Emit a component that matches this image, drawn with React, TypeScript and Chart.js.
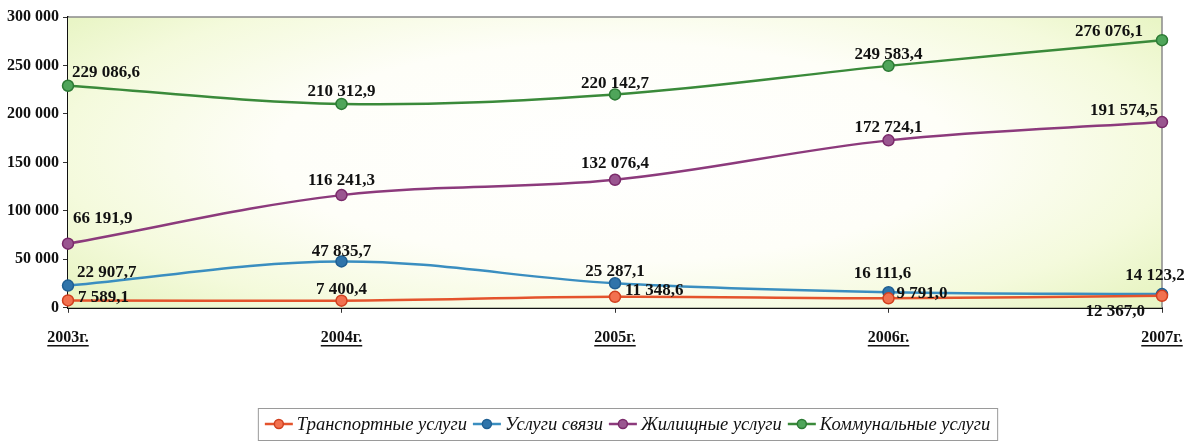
import React, { useEffect, useRef } from "react";
import { Chart, registerables } from "chart.js";

Chart.register(...registerables);

const years = ["2003г.", "2004г.", "2005г.", "2006г.", "2007г."];
const transport = [7589.1, 7400.4, 11348.6, 9791.0, 12367.0];
const communication = [22907.7, 47835.7, 25287.1, 16111.6, 14123.2];
const housing = [66191.9, 116241.3, 132076.4, 172724.1, 191574.5];
const communal = [229086.6, 210312.9, 220142.7, 249583.4, 276076.1];
const seriesNames = ["Транспортные услуги", "Услуги связи", "Жилищные услуги", "Коммунальные услуги"];
const yMax = 300000;
const yStep = 50000;

const lineColors = ["#e4532c", "#3a8ec0", "#8c3a7c", "#3a8a3a"];
const pointFills = ["#f2714f", "#2f74aa", "#9a5690", "#4fa55a"];
const pointBorders = ["#d0401f", "#1f5f92", "#7a2a6a", "#2c7a34"];

// label placement per series / point: [align, dx, dy]
const placements: [CanvasTextAlign, number, number][][] = [
  [["left", 10, -3], ["center", 0, -11], ["left", 10, -6], ["left", 8, -5], ["right", -17, 16]],
  [["left", 9, -13], ["center", 0, -10], ["center", 0, -12], ["center", -6, -19], ["center", -7, -19]],
  [["left", 5, -25], ["center", 0, -15], ["center", 0, -16], ["center", 0, -13], ["right", -4, -11]],
  [["left", 4, -13], ["center", 0, -12], ["center", 0, -11], ["center", 0, -11], ["right", -19, -9]],
];

const fmtValue = (v: number) => {
  const [i, d] = v.toFixed(1).split(".");
  return i.replace(/\B(?=(\d{3})+(?!\d))/g, " ") + "," + d;
};
const fmtTick = (v: number) => String(v).replace(/\B(?=(\d{3})+(?!\d))/g, " ");

const bgPlugin = {
  id: "bgPlugin",
  beforeDatasetsDraw(chart: any) {
    const { ctx, chartArea: a } = chart;
    const cx = (a.left + a.right) / 2;
    const cy = (a.top + a.bottom) / 2 - 10;
    const rx = (a.right - a.left) * 0.62;
    const ry = (a.bottom - a.top) * 0.75;
    ctx.save();
    ctx.beginPath();
    ctx.rect(a.left, a.top, a.right - a.left, a.bottom - a.top);
    ctx.clip();
    ctx.translate(cx, cy);
    ctx.scale(1, ry / rx);
    const g = ctx.createRadialGradient(0, 0, 0, 0, 0, rx);
    g.addColorStop(0, "#ffffff");
    g.addColorStop(0.5, "#fefef8");
    g.addColorStop(0.82, "#f4fadc");
    g.addColorStop(1, "#e9f5c6");
    ctx.fillStyle = g;
    ctx.fillRect(-rx * 2, -rx * 2, rx * 4, rx * 4);
    ctx.restore();
    ctx.save();
    ctx.strokeStyle = "#8a8a8a";
    ctx.lineWidth = 1.5;
    ctx.beginPath();
    ctx.moveTo(a.left, a.top);
    ctx.lineTo(a.right, a.top);
    ctx.lineTo(a.right, a.bottom);
    ctx.stroke();
    ctx.restore();
  },
};

const labelPlugin = {
  id: "labelPlugin",
  afterDatasetsDraw(chart: any) {
    const { ctx } = chart;
    ctx.save();
    ctx.font = "bold 17px 'Liberation Serif'";
    ctx.fillStyle = "#111";
    ctx.textBaseline = "middle";
    chart.data.datasets.forEach((ds: any, di: number) => {
      const meta = chart.getDatasetMeta(di);
      meta.data.forEach((pt: any, i: number) => {
        const [al, dx, dy] = placements[di][i];
        ctx.textAlign = al;
        ctx.fillText(fmtValue(ds.data[i]), pt.x + dx, pt.y + dy);
      });
    });
    ctx.restore();
  },
};

const underlinePlugin = {
  id: "underlinePlugin",
  afterDraw(chart: any) {
    const { ctx } = chart;
    const xs = chart.scales.x;
    ctx.save();
    ctx.font = "bold 16px 'Liberation Serif'";
    ctx.strokeStyle = "#111";
    ctx.lineWidth = 1.5;
    const y = xs.top + 38;
    xs.ticks.forEach((t: any, i: number) => {
      const x = xs.getPixelForTick(i);
      const w = ctx.measureText(String(t.label)).width;
      ctx.beginPath();
      ctx.moveTo(x - w / 2, y);
      ctx.lineTo(x + w / 2, y);
      ctx.stroke();
    });
    ctx.restore();
  },
};

const legendPlugin = {
  id: "legendPlugin",
  afterDraw(chart: any) {
    const { ctx } = chart;
    ctx.save();
    ctx.font = "italic 18.5px 'Liberation Serif'";
    const markW = 28;
    const gap1 = 4;
    const gap2 = 6;
    const items = chart.data.datasets.map((ds: any) => ({
      label: ds.label,
      w: ctx.measureText(ds.label).width,
      color: ds.borderColor,
      fill: ds.pointBackgroundColor,
      border: ds.pointBorderColor,
    }));
    let total = 0;
    items.forEach((it: any, i: number) => {
      total += markW + gap1 + it.w + (i < items.length - 1 ? gap2 : 0);
    });
    const boxW = total + 14;
    const boxL = 627.5 - boxW / 2;
    const boxT = 408;
    const boxH = 32;
    ctx.strokeStyle = "#9a9a9a";
    ctx.lineWidth = 1;
    ctx.strokeRect(boxL + 0.5, boxT + 0.5, boxW, boxH);
    let x = boxL + 7;
    const cy = boxT + boxH / 2;
    ctx.textBaseline = "middle";
    ctx.textAlign = "left";
    items.forEach((it: any) => {
      ctx.strokeStyle = it.color;
      ctx.lineWidth = 2.5;
      ctx.beginPath();
      ctx.moveTo(x, cy);
      ctx.lineTo(x + markW, cy);
      ctx.stroke();
      ctx.beginPath();
      ctx.arc(x + markW / 2, cy, 4.5, 0, Math.PI * 2);
      ctx.fillStyle = it.fill;
      ctx.fill();
      ctx.lineWidth = 1.5;
      ctx.strokeStyle = it.border;
      ctx.stroke();
      x += markW + gap1;
      ctx.fillStyle = "#111";
      ctx.fillText(it.label, x, cy + 1);
      x += it.w + gap2;
    });
    ctx.restore();
  },
};

export default function App() {
  const ref = useRef<HTMLCanvasElement | null>(null);
  useEffect(() => {
    document.body.style.margin = "0";
    const canvas = ref.current;
    if (!canvas) return;
    const seriesData = [transport, communication, housing, communal];
    const chart = new Chart(canvas, {
      type: "line",
      data: {
        labels: years,
        datasets: seriesData.map((d, i) => ({
          label: seriesNames[i],
          data: d,
          borderColor: lineColors[i],
          backgroundColor: lineColors[i],
          pointBackgroundColor: pointFills[i],
          pointBorderColor: pointBorders[i],
          pointBorderWidth: 1.5,
          pointRadius: 5.5,
          borderWidth: 2.5,
          tension: 0.35,
          fill: false,
        })),
      },
      options: {
        responsive: false,
        animation: false,
        devicePixelRatio: 1,
        layout: { padding: { left: 0, right: 31, top: 17, bottom: 82 } },
        plugins: {
          legend: { display: false },
          tooltip: { enabled: false },
          title: { display: false },
        },
        scales: {
          x: {
            type: "category",
            offset: false,
            afterFit(scale: any) {
              scale.paddingRight = 0;
              scale.paddingLeft = 0;
            },
            grid: { display: true, drawOnChartArea: false, drawTicks: true, tickLength: 5, color: "#333" },
            border: { display: true, color: "#111", width: 2 },
            ticks: {
              color: "#111",
              padding: 15,
              maxRotation: 0,
              autoSkip: false,
              font: { family: "'Liberation Serif'", size: 16, weight: "bold" },
            },
          },
          y: {
            min: 0,
            max: yMax,
            afterFit(scale: any) {
              scale.width = 68;
            },
            grid: { display: true, drawOnChartArea: false, drawTicks: true, tickLength: 5, color: "#333" },
            border: { display: true, color: "#111", width: 2 },
            ticks: {
              stepSize: yStep,
              color: "#111",
              padding: 4,
              font: { family: "'Liberation Serif'", size: 16, weight: "bold" },
              callback: (v: any) => fmtTick(Number(v)),
            },
          },
        },
      },
      plugins: [bgPlugin, labelPlugin, underlinePlugin, legendPlugin],
    });
    return () => chart.destroy();
  }, []);
  return (
    <div style={{ position: "absolute", left: 0, top: 0, width: 1193, height: 444, background: "#fff" }}>
      <canvas ref={ref} width={1193} height={444} style={{ width: 1193, height: 444, display: "block" }} />
    </div>
  );
}
